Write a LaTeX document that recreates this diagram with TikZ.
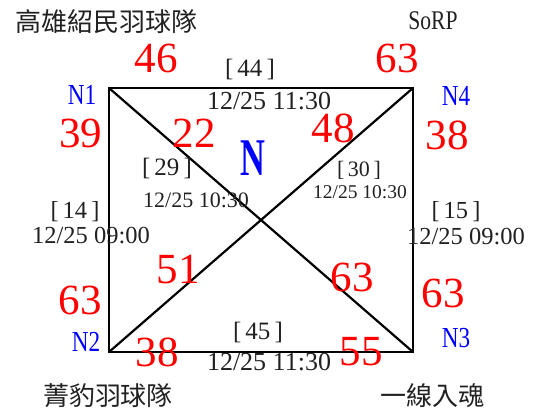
\documentclass[tikz,border=0pt]{standalone}
\usepackage{fontspec}
\setmainfont{Liberation Serif}
\newfontfamily\narrowfont[FakeStretch=0.8]{Liberation Serif}
\newfontfamily\slimfont[FakeStretch=0.65]{Liberation Serif}
\newfontfamily\cjk{Noto Sans CJK TC}
\usetikzlibrary{positioning}
\definecolor{scorered}{RGB}{255,0,0}
\definecolor{seedblue}{RGB}{0,0,255}
\definecolor{labgray}{gray}{0.13}

\begin{document}
\begin{tikzpicture}[x=1pt, y=-1pt,
  score/.style={text=scorered, inner sep=0pt, font=\fontsize{43}{43}\selectfont},
  seed/.style={text=seedblue, inner sep=0pt, font=\narrowfont\fontsize{29}{29}\selectfont},
  team/.style={text=labgray, inner sep=0pt, font=\cjk\fontsize{26}{26}\selectfont},
  game/.style={text=labgray, inner sep=0pt, font=\fontsize{#1}{#1}\selectfont},
  edge/.style={line width=2.2pt}
]
\useasboundingbox (0,0) rectangle (539,412);
% corners of the square
\coordinate (p1) at (109,88);
\coordinate (p4) at (413,88);
\coordinate (p2) at (109,352);
\coordinate (p3) at (413,352);
\draw[edge] (p1) -- (p4) -- (p3) -- (p2) -- cycle;
\draw[edge] (p1) -- (p3);
\draw[edge] (p2) -- (p4);
% teams
\node[team] (t1) at (107,22) {高雄紹民羽球隊};
\node[team, font=\fontsize{27}{27}\narrowfont\selectfont] (t4) at (433,21) {SoRP};
\node[team] (t2) at (108,396) {菁豹羽球隊};
\node[team] (t3) at (432,396) {一線入魂};
% seeds
\node[seed] (n1) at (82,95) {N1};
\node[seed] (n4) at (456,96) {N4};
\node[seed] (n2) at (86,342) {N2};
\node[seed] (n3) at (456,338) {N3};
\node[seed, font=\slimfont\fontsize{53}{53}\bfseries\selectfont] (nn) at (253,158) {N};
% games
\node[game=25] (g44) at (250,69) {[\,44\,]};
\node[game=26] (d44) at (269,101) {12/25 11:30};
\node[game=25] (g29) at (167,168) {[\,29\,]};
\node[game=22] (d29) at (196,200) {12/25 10:30};
\node[game=22] (g30) at (359,170) {[\,30\,]};
\node[game=19.5] (d30) at (360,192) {12/25 10:30};
\node[game=24.5] (g14) at (75,212) {[\,14\,]};
\node[game=24.5] (d14) at (91,236) {12/25 09:00};
\node[game=24.5] (g15) at (456,212) {[\,15\,]};
\node[game=24.5] (d15) at (466,237) {12/25 09:00};
\node[game=25] (g45) at (258,332) {[\,45\,]};
\node[game=26] (d45) at (269,362) {12/25 11:30};
% scores
\node[score] (s46) at (156,58) {46};
\node[score] (s63a) at (397,58) {63};
\node[score] (s39) at (81,133) {39};
\node[score] (s22) at (194,133) {22};
\node[score] (s48) at (333,128) {48};
\node[score] (s38a) at (447,135) {38};
\node[score] (s51) at (178,270) {51};
\node[score] (s63b) at (352,277) {63};
\node[score] (s63c) at (80,300) {63};
\node[score] (s63d) at (443,293) {63};
\node[score] (s38b) at (157,352) {38};
\node[score] (s55) at (361,352) {55};
\end{tikzpicture}
\end{document}
